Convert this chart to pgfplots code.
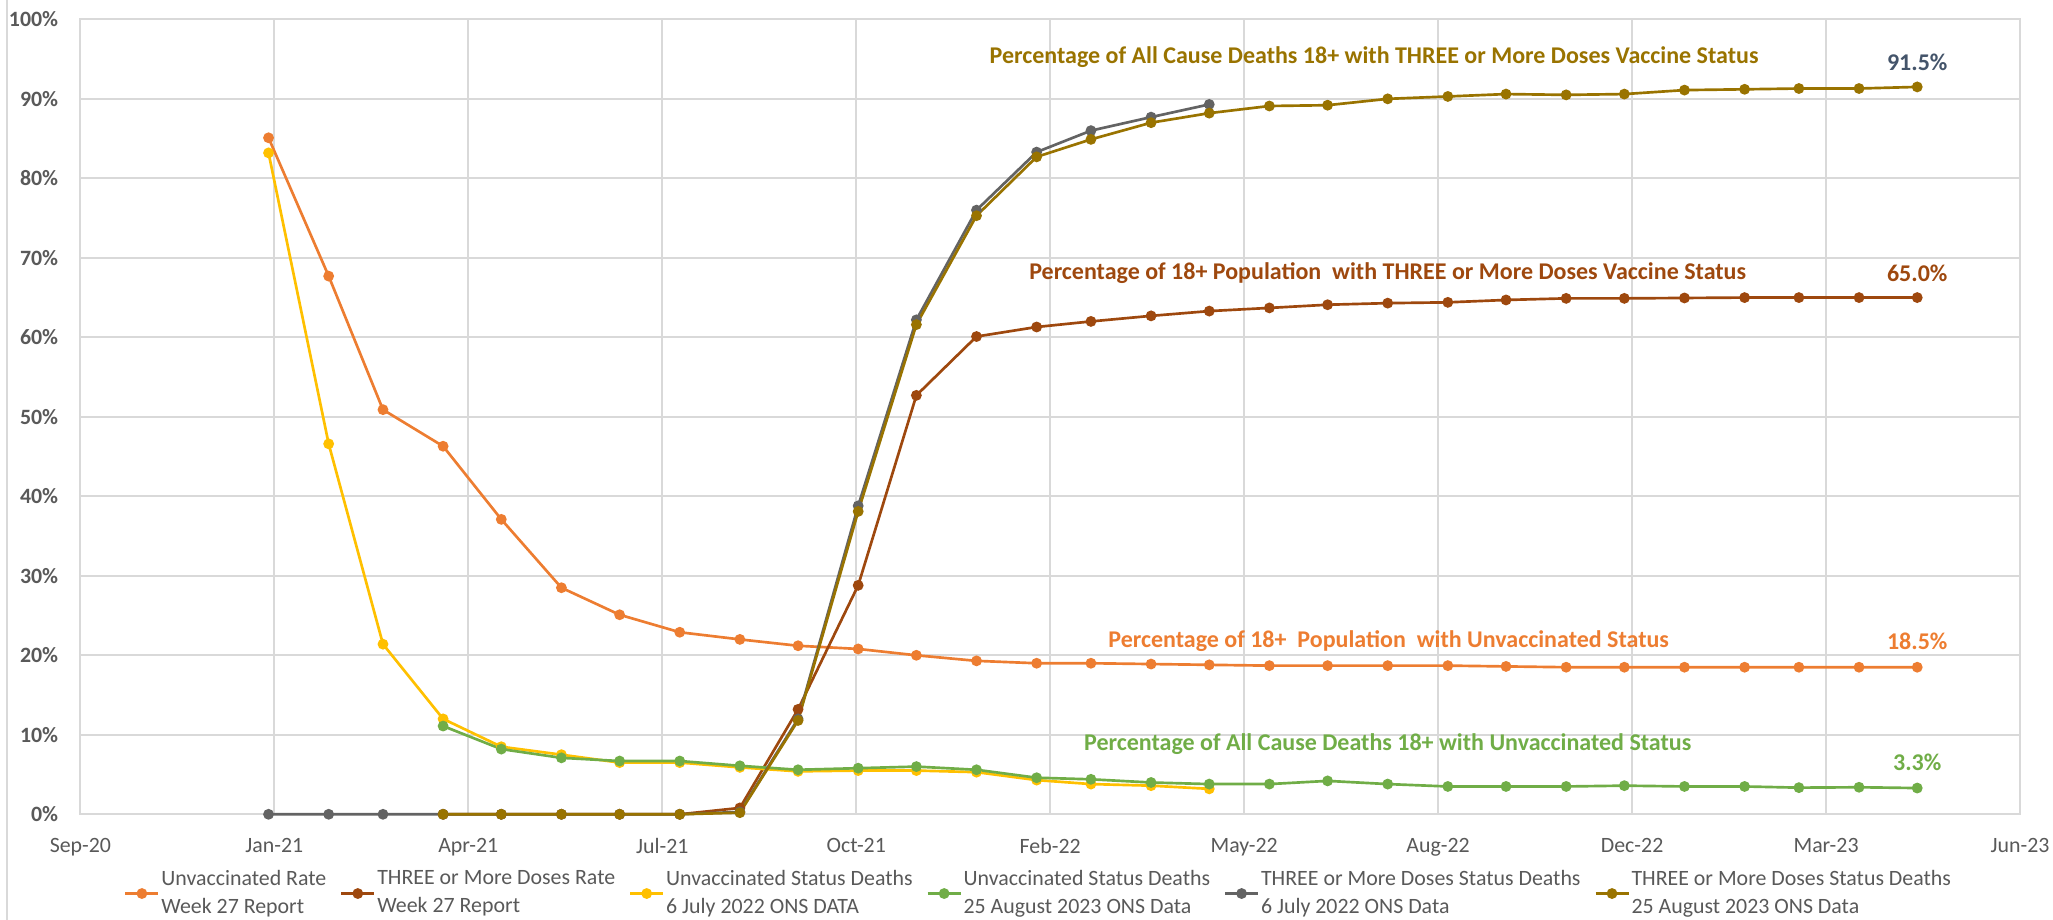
\documentclass[border=0pt]{standalone}
\usepackage{pgfplots}
\pgfplotsset{compat=1.18}
\usepackage{fontspec}
\setmainfont{Carlito}
\definecolor{cOrange}{HTML}{ED7D31}
\definecolor{cBrown}{HTML}{9E480E}
\definecolor{cYellow}{HTML}{FFC000}
\definecolor{cGreen}{HTML}{70AD47}
\definecolor{cGrey}{HTML}{636363}
\definecolor{cOlive}{HTML}{997300}
\definecolor{cTick}{HTML}{595959}
\definecolor{cGrid}{HTML}{D9D9D9}
\definecolor{cSlate}{HTML}{44546A}
\begin{document}
\begin{tikzpicture}[x=1pt,y=1pt]
\path[use as bounding box] (0,0) rectangle (769.875,345);
\draw[color=cGrid, line width=0.75pt] (2.6,0) -- (2.6,345);
\begin{axis}[
  at={(30.15pt,39.64pt)}, anchor=south west,
  scale only axis, width=727.35pt, height=298.1pt,
  xmin=-97, xmax=903, ymin=0, ymax=100,
  xtick={-97,3,103,203,303,403,503,603,703,803,903},
  xticklabels={Sep-20,Jan-21,Apr-21,Jul-21,Oct-21,Feb-22,May-22,Aug-22,Dec-22,Mar-23,Jun-23},
  ytick={0,10,...,100},
  yticklabel={\pgfmathprintnumber{\tick}\%},
  /pgf/number format/assume math mode=true,
  major tick length=0pt,
  grid=major,
  major grid style={draw=cGrid, line width=0.75pt},
  axis line style={draw=cGrid, line width=0.75pt},
  xticklabel style={font=\fontsize{8.2}{10}\selectfont, text=cTick, yshift=-5.5pt},
  yticklabel style={font=\fontsize{8.2}{10}\selectfont\bfseries, text=cTick, xshift=-4.8pt},
  every axis plot/.append style={line width=1pt, mark=*, mark size=1.5pt, mark options={solid}},
  legend style={
    at={(axis description cs:0.0225,-0.068)}, anchor=north west,
    draw=none, fill=none, inner sep=0pt, outer sep=0pt,
    font=\fontsize{8.2}{10.5}\selectfont, text=cTick,
    nodes={align=left, inner sep=0.6pt},
    /tikz/every even column/.append style={column sep=4.5pt},
  },
  legend columns=6,
  legend cell align=left,
  legend image code/.code={\draw[mark repeat=2,mark phase=2,#1] plot coordinates {(0pt,0pt) (6.2pt,0pt) (12.4pt,0pt)};},
  clip=false,
]
% Unvaccinated Rate Week 27 Report
\addplot[color=cOrange] coordinates {
(0,85.1) (31,67.7) (59,50.9) (90,46.3) (120,37.1) (151,28.5) (181,25.1) (212,22.9) (243,22.0) (273,21.2)
(304,20.8) (334,20.0) (365,19.3) (396,19.0) (424,19.0) (455,18.9) (485,18.8) (516,18.7) (546,18.7) (577,18.7)
(608,18.7) (638,18.6) (669,18.5) (699,18.5) (730,18.5) (761,18.5) (789,18.5) (820,18.5) (850,18.5)};
\addlegendentry{Unvaccinated Rate\\Week 27 Report}
% THREE or More Doses Rate Week 27 Report
\addplot[color=cBrown] coordinates {
(90,0) (120,0) (151,0) (181,0) (212,0) (243,0.8) (273,13.2)
(304,28.8) (334,52.7) (365,60.1) (396,61.3) (424,62.0) (455,62.7) (485,63.3) (516,63.7) (546,64.1) (577,64.3)
(608,64.4) (638,64.7) (669,64.9) (699,64.9) (730,64.95) (761,65.0) (789,65.0) (820,65.0) (850,65.0)};
\addlegendentry{THREE or More Doses Rate\\Week 27 Report}
% Unvaccinated Status Deaths 6 July 2022
\addplot[color=cYellow] coordinates {
(0,83.2) (31,46.6) (59,21.4) (90,12.0) (120,8.5) (151,7.5) (181,6.5) (212,6.5) (243,5.9) (273,5.4)
(304,5.5) (334,5.5) (365,5.3) (396,4.3) (424,3.8) (455,3.6) (485,3.2)};
\addlegendentry{Unvaccinated Status Deaths\\6 July 2022 ONS DATA}
% Unvaccinated Status Deaths 25 August 2023
\addplot[color=cGreen] coordinates {
(90,11.1) (120,8.2) (151,7.1) (181,6.7) (212,6.7) (243,6.1) (273,5.6)
(304,5.8) (334,6.0) (365,5.6) (396,4.6) (424,4.4) (455,4.0) (485,3.8) (516,3.8) (546,4.2) (577,3.8)
(608,3.5) (638,3.5) (669,3.5) (699,3.6) (730,3.5) (761,3.5) (789,3.35) (820,3.4) (850,3.3)};
\addlegendentry{Unvaccinated Status Deaths\\25 August 2023 ONS Data}
% THREE or More Doses Status Deaths 6 July 2022
\addplot[color=cGrey] coordinates {
(0,0) (31,0) (59,0) (90,0) (120,0) (151,0) (181,0) (212,0) (243,0.3) (273,12.0)
(304,38.8) (334,62.2) (365,76.0) (396,83.3) (424,86.0) (455,87.7) (485,89.3)};
\addlegendentry{THREE or More Doses Status Deaths\\6 July 2022 ONS Data}
% THREE or More Doses Status Deaths 25 August 2023
\addplot[color=cOlive] coordinates {
(90,0) (120,0) (151,0) (181,0) (212,0) (243,0.2) (273,11.8)
(304,38.1) (334,61.6) (365,75.3) (396,82.7) (424,84.9) (455,87.0) (485,88.2) (516,89.1) (546,89.2) (577,90.0)
(608,90.3) (638,90.6) (669,90.5) (699,90.6) (730,91.1) (761,91.2) (789,91.3) (820,91.3) (850,91.5)};
\addlegendentry{THREE or More Doses Status Deaths\\25 August 2023 ONS Data}

\node[font=\fontsize{9}{11}\selectfont\bfseries, text=cOlive] at (axis cs:570,95.2) {Percentage of All Cause Deaths 18+ with THREE or More Doses Vaccine Status};
\node[font=\fontsize{9}{11}\selectfont\bfseries, text=cSlate] at (axis cs:850,94.6) {91.5\%};
\node[font=\fontsize{9}{11}\selectfont\bfseries, text=cBrown] at (axis cs:577,68.1) {Percentage of 18+ Population\ \ with THREE or More Doses Vaccine Status};
\node[font=\fontsize{9}{11}\selectfont\bfseries, text=cBrown] at (axis cs:850,68.1) {65.0\%};
\node[font=\fontsize{9}{11}\selectfont\bfseries, text=cOrange] at (axis cs:577.5,21.8) {Percentage of 18+\ \ Population\ \ with Unvaccinated Status};
\node[font=\fontsize{9}{11}\selectfont\bfseries, text=cOrange] at (axis cs:850,21.7) {18.5\%};
\node[font=\fontsize{9}{11}\selectfont\bfseries, text=cGreen] at (axis cs:577,8.8) {Percentage of All Cause Deaths 18+ with Unvaccinated Status};
\node[font=\fontsize{9}{11}\selectfont\bfseries, text=cGreen] at (axis cs:850,6.5) {3.3\%};
\end{axis}
\end{tikzpicture}
\end{document}
